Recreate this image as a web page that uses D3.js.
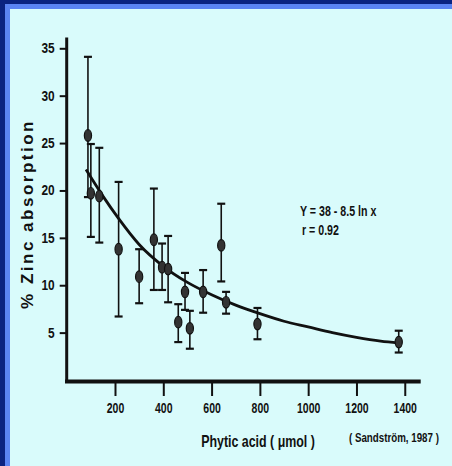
<!DOCTYPE html>
<html>
<head>
<meta charset="utf-8">
<script src="https://cdn.jsdelivr.net/npm/d3@7"></script>
<style>
  html, body { margin: 0; padding: 0; background: #0b2380; }
  svg { display: block; }
  text { font-family: 'Liberation Sans', Arial, sans-serif; font-weight: bold; fill: #111; }
</style>
</head>
<body>
<div id="plotholder"></div>
<script>
// phytic acid (umol) vs % zinc absorption
const PHYTATE = [88, 100, 135, 215, 300, 361, 395, 420, 462, 490, 510, 565, 640, 660, 790, 1375]
const ZINC = [25.8, 19.7, 19.4, 13.8, 10.9, 14.8, 11.9, 11.7, 6.1, 9.3, 5.45, 9.3, 14.2, 8.2, 5.9, 4.0]
const ZINC_HI = [34.1, 24.9, 24.5, 20.9, 13.8, 20.2, 14.4, 15.2, 8.0, 11.3, 7.3, 11.6, 18.6, 9.3, 7.6, 5.2]
const ZINC_LO = [19.3, 15.1, 14.5, 6.7, 8.1, 9.5, 9.5, 8.2, 4.0, 7.4, 3.3, 7.1, 10.4, 7.0, 4.3, 2.9]

// fitted curve as traced on the figure
const CURVE_X = [80, 150, 213, 300, 400, 500, 600, 700, 800, 900, 1000, 1100, 1200, 1300, 1375]
const CURVE_Y = [22.2, 19.4, 17.1, 14.3, 12.0, 10.3, 9.0, 7.9, 7.0, 6.2, 5.6, 5.0, 4.5, 4.1, 3.9]

const XTICKS = [200, 400, 600, 800, 1000, 1200, 1400]
const YTICKS = [5, 10, 15, 20, 25, 30, 35]

const W = 452, H = 466

const condensed = (sel, sx) => {
  /* squeeze text horizontally, the original uses a narrow bold face */
  sel.each(function () {
    const t = d3.select(this)
    const x = +t.attr('x') || 0
    t.attr('x', x / sx).attr('transform', `scale(${sx},1)`)
  })
}

const svg = d3.select('#plotholder').append('svg')
  .attr('width', W)
  .attr('height', H)

// frame: dark navy, lighter blue strip, then pale cyan panel
svg.append('rect').attr('width', W).attr('height', H).attr('fill', '#0b2380')
svg.append('rect').attr('x', 5).attr('y', 4).attr('width', W).attr('height', H).attr('fill', '#5b84f2')
svg.append('rect').attr('x', 10).attr('y', 9).attr('width', W).attr('height', H).attr('fill', '#d9fbfb')

const xscale = d3.scaleLinear().domain([0, 1466]).range([66.7, 420.7])
const yscale = d3.scaleLinear().domain([0, 35]).range([380, 48.3])

// y axis
const yaxis = svg.append('g')
  .attr('transform', 'translate(66.7,0)')
  .call(d3.axisLeft(yscale).tickValues(YTICKS).tickSize(7).tickPadding(5))
yaxis.select('.domain').remove()
yaxis.selectAll('line').attr('stroke', '#111').attr('stroke-width', 2)
yaxis.selectAll('text')
  .style('font-size', '14px').style('font-family', null).attr('fill', '#111')
  .call(condensed, 0.85)
svg.append('line')
  .attr('x1', 66.7).attr('x2', 66.7).attr('y1', 37.5).attr('y2', 383)
  .attr('stroke', '#111').attr('stroke-width', 3)

// x axis
const xaxis = svg.append('g')
  .attr('transform', 'translate(0,381)')
  .call(d3.axisBottom(xscale).tickValues(XTICKS).tickFormat(d3.format('d')).tickSize(15).tickPadding(6))
xaxis.select('.domain').remove()
xaxis.selectAll('line').attr('stroke', '#111').attr('stroke-width', 2)
xaxis.selectAll('text')
  .style('font-size', '15px').style('font-family', null).attr('fill', '#111')
  .call(condensed, 0.7)
svg.append('line')
  .attr('x1', 65).attr('x2', 420.7).attr('y1', 381.5).attr('y2', 381.5)
  .attr('stroke', '#111').attr('stroke-width', 4)

// axis titles
svg.append('text')
  .attr('transform', 'translate(33,214) rotate(-90)')
  .attr('text-anchor', 'middle')
  .style('font-size', '17px')
  .style('letter-spacing', '2.5px')
  .text('% Zinc absorption')

svg.append('g').attr('transform', 'translate(258,447)')
  .append('text')
  .attr('text-anchor', 'middle')
  .style('font-size', '17px')
  .text('Phytic acid ( μmol )')
  .call(condensed, 0.73)

svg.append('g').attr('transform', 'translate(349,442)')
  .append('text')
  .style('font-size', '13px')
  .text('( Sandström, 1987 )')
  .call(condensed, 0.75)

// equation
svg.append('g').attr('transform', 'translate(300,216)')
  .append('text')
  .style('font-size', '14px')
  .text('Y = 38 - 8.5 ln x')
  .call(condensed, 0.76)
svg.append('g').attr('transform', 'translate(302,235)')
  .append('text')
  .style('font-size', '14px')
  .text('r = 0.92')
  .call(condensed, 0.76)

// error bars
const idx = d3.range(PHYTATE.length)
const bars = svg.append('g').attr('stroke', '#111').attr('stroke-width', 1.6)
bars.selectAll('line.stem').data(idx).enter().append('line')
  .attr('x1', i => xscale(PHYTATE[i])).attr('x2', i => xscale(PHYTATE[i]))
  .attr('y1', i => yscale(ZINC_HI[i])).attr('y2', i => yscale(ZINC_LO[i]))
bars.selectAll('line.hi').data(idx).enter().append('line')
  .attr('x1', i => xscale(PHYTATE[i]) - 4).attr('x2', i => xscale(PHYTATE[i]) + 4)
  .attr('y1', i => yscale(ZINC_HI[i])).attr('y2', i => yscale(ZINC_HI[i]))
  .attr('stroke-width', 2.2)
bars.selectAll('line.lo').data(idx).enter().append('line')
  .attr('x1', i => xscale(PHYTATE[i]) - 4).attr('x2', i => xscale(PHYTATE[i]) + 4)
  .attr('y1', i => yscale(ZINC_LO[i])).attr('y2', i => yscale(ZINC_LO[i]))
  .attr('stroke-width', 2.2)

// curve
const linefunction = d3.line()
  .x(i => xscale(CURVE_X[i]))
  .y(i => yscale(CURVE_Y[i]))
  .curve(d3.curveMonotoneX)
svg.append('path')
  .attr('d', linefunction(d3.range(CURVE_X.length)))
  .attr('fill', 'none')
  .attr('stroke', '#111')
  .attr('stroke-width', 2.8)

// points
svg.append('g').selectAll('ellipse').data(idx).enter().append('ellipse')
  .attr('cx', i => xscale(PHYTATE[i]))
  .attr('cy', i => yscale(ZINC[i]))
  .attr('rx', 3.6)
  .attr('ry', 5.8)
  .attr('fill', '#333')
  .attr('stroke', '#111')
  .attr('stroke-width', 1.2)
</script>
</body>
</html>
